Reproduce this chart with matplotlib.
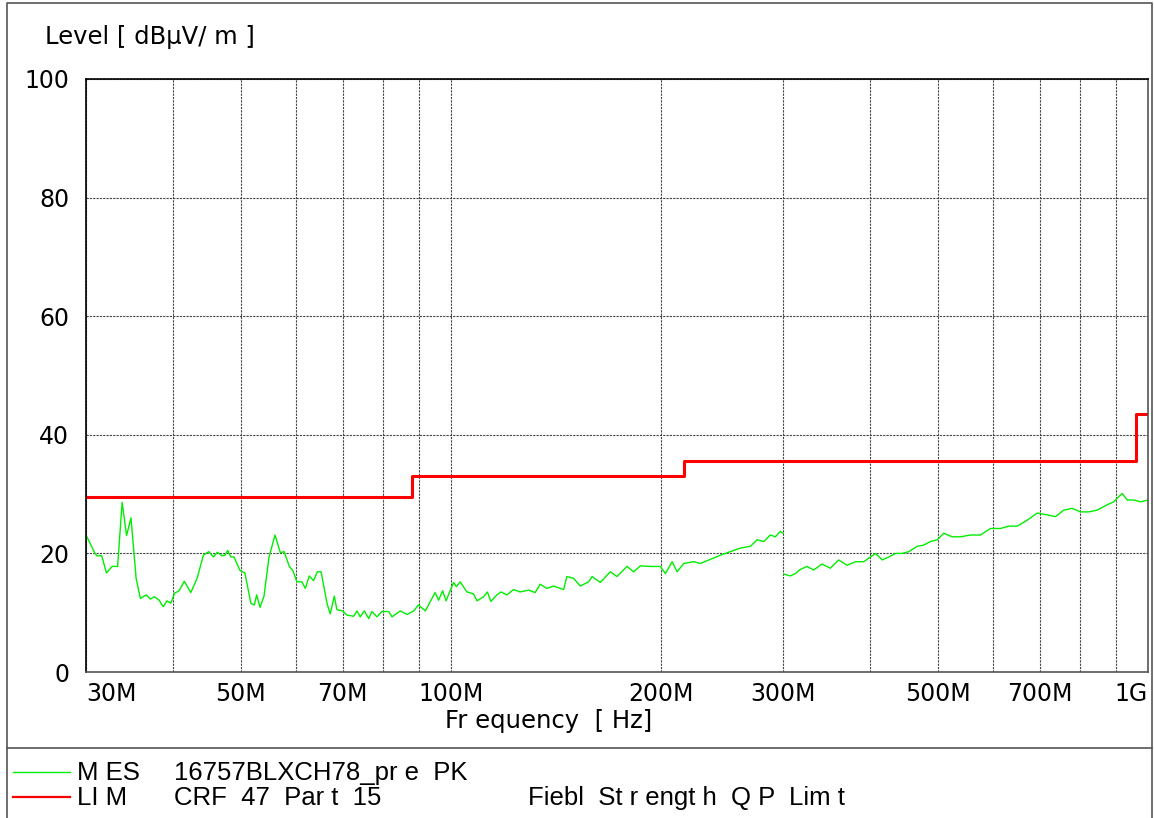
import numpy as np
import matplotlib
matplotlib.use("Agg")
import matplotlib.pyplot as plt
from matplotlib.lines import Line2D
from matplotlib.ticker import NullFormatter, FixedLocator

plt.rcParams['font.family'] = ['DejaVu Sans']

# measured trace, 30-300 MHz band
band1_mhz = [30.0, 30.9, 31.1, 31.6, 32.1, 32.7, 33.3, 33.8, 34.3, 34.8, 35.4, 35.9,
             36.6, 37.1, 37.6, 38.2, 38.7, 39.2, 39.7, 40.2, 40.8, 41.5, 42.4, 43.3,
             44.2, 45.0, 45.7, 46.3, 47.0, 47.5, 47.9, 48.4, 48.9, 49.9, 50.7, 51.7,
             52.3, 52.7, 53.3, 54.0, 54.9, 56.0, 57.0, 57.7, 58.7, 59.4, 60.2, 61.2,
             61.9, 62.7, 63.6, 64.4, 65.2, 66.5, 67.2, 68.1, 68.7, 70.0, 71.0, 72.6,
             73.4, 74.2, 75.2, 76.3, 77.1, 78.4, 79.7, 81.5, 82.4, 83.8, 84.7, 86.6,
             88.5, 89.9, 92.0, 95.0, 96.1, 97.4, 98.5, 99.9, 101.0, 101.9, 103.2, 105.5,
             107.8, 109.1, 111.5, 112.9, 114.2, 116.5, 118.1, 120.4, 123.1, 125.8, 129.3,
             132.2, 134.4, 137.4, 140.5, 145.2, 146.8, 150.1, 153.4, 157.7, 159.5, 163.9,
             169.4, 173.2, 179.0, 183.0, 187.1, 193.4, 199.9, 203.2, 207.8, 211.2, 215.9,
             223.1, 228.1, 235.8, 243.7, 251.9, 260.4, 269.1, 275.1, 281.2, 287.4, 292.1,
             297.0, 299.6]
band1_db = [23.1, 20.0, 19.6, 19.6, 16.7, 17.8, 17.8, 28.6, 23.0, 26.0, 15.8, 12.4,
            13.0, 12.3, 12.7, 12.1, 11.0, 12.0, 11.6, 13.3, 13.7, 15.3, 13.4, 15.8,
            19.7, 20.3, 19.4, 20.2, 19.6, 19.7, 20.5, 19.4, 19.4, 17.1, 16.7, 11.6,
            11.3, 13.0, 10.9, 12.8, 19.4, 23.1, 20.1, 20.3, 17.8, 17.1, 15.2, 15.2,
            14.1, 16.2, 15.4, 16.9, 16.9, 11.5, 9.8, 12.8, 10.5, 10.3, 9.6, 9.4,
            10.3, 9.3, 10.3, 9.0, 10.2, 9.3, 10.2, 10.2, 9.3, 9.9, 10.3, 9.7,
            10.3, 11.3, 10.3, 13.4, 12.1, 13.7, 12.0, 13.8, 15.1, 14.4, 15.2, 13.5,
            13.2, 12.0, 12.7, 13.5, 11.9, 13.0, 13.5, 13.0, 13.9, 13.5, 13.8,
            13.4, 14.8, 14.1, 14.5, 13.9, 16.1, 15.8, 14.5, 15.2, 16.1, 15.1,
            16.9, 16.1, 17.8, 16.9, 17.9, 17.8, 17.8, 16.6, 18.6, 16.9, 18.3,
            18.6, 18.3, 19.0, 19.7, 20.3, 20.9, 21.2, 22.3, 22.0, 23.1, 22.8,
            23.7, 23.4]

# measured trace, 300-1000 MHz band
band2_mhz = [300.5, 307.0, 312.2, 317.3, 324.4, 331.6, 340.9, 350.3, 360.1, 370.2,
             380.7, 391.3, 400.0, 406.7, 415.8, 425.0, 434.5, 444.2, 454.0, 466.7,
             477.0, 487.6, 498.6, 509.5, 523.8, 538.4, 556.4, 575.1, 594.4, 614.4,
             631.5, 649.3, 671.1, 693.6, 716.9, 736.8, 757.3, 778.6, 800.2, 822.5,
             845.6, 874.0, 893.2, 908.1, 918.4, 933.7, 954.3, 975.6, 1000.0]
band2_db = [16.5, 16.2, 16.6, 17.3, 17.8, 17.2, 18.2, 17.5, 18.9, 18.0,
            18.6, 18.6, 19.4, 20.0, 18.9, 19.4, 20.0, 20.0, 20.3, 21.2,
            21.4, 22.0, 22.3, 23.4, 22.8, 22.8, 23.1, 23.1, 24.2, 24.2,
            24.6, 24.6, 25.6, 26.8, 26.5, 26.2, 27.3, 27.6, 27.0, 27.0,
            27.3, 28.2, 28.7, 29.6, 30.1, 29.0, 29.0, 28.7, 29.0]

# CFR 47 Part 15 limit (step edges, MHz) and levels
limit_mhz = [30, 88, 88, 216, 216, 960, 960, 1000]
limit_db = [29.5, 29.5, 33.1, 33.1, 35.6, 35.6, 43.5, 43.5]

major_mhz = [30, 50, 70, 100, 200, 300, 500, 700, 1000]
major_labels = ["30M", "50M", "70M", "100M", "200M", "300M", "500M", "700M", "1G"]
minor_mhz = [40, 60, 80, 90, 400, 600, 800, 900]
y_ticks = [0, 20, 40, 60, 80, 100]

W, H = 1154, 818
fig = plt.figure(figsize=(W / 100, H / 100), dpi=100)
ax = fig.add_axes([86 / W, 1 - 672 / H, (1148 - 86) / W, (672 - 79) / H])

ax.plot(band1_mhz, band1_db, color='#00ee00', lw=1.0)
ax.plot(band2_mhz, band2_db, color='#00ee00', lw=1.0)
ax.plot(limit_mhz, limit_db, color='#ff0000', lw=2.2)

ax.set_xscale('log')
ax.set_xlim(30, 1000)
ax.set_ylim(0, 100)
ax.xaxis.set_major_locator(FixedLocator(major_mhz))
ax.xaxis.set_minor_locator(FixedLocator(minor_mhz))
ax.xaxis.set_minor_formatter(NullFormatter())
ax.set_xticklabels(major_labels)
ax.set_yticks(y_ticks)
ax.tick_params(which='both', length=0)
ax.tick_params(axis='x', pad=7, labelsize=17)
ax.tick_params(axis='y', pad=12, labelsize=17)
lbls = ax.get_xticklabels()
lbls[0].set_ha('left')
lbls[-1].set_ha('right')

ax.grid(True, which='both', color='#444444', linestyle=(0, (2, 1)), lw=0.8)
ax.set_axisbelow(True)
for side in ['top', 'left']:
    ax.spines[side].set_color('black')
    ax.spines[side].set_linewidth(1.2)
for side in ['bottom', 'right']:
    ax.spines[side].set_color('#555555')
    ax.spines[side].set_linewidth(1.2)

fig.text(45 / W, 1 - 37 / H, "Level [ dBµV/ m ]", fontsize=17.5, va='center', ha='left')
fig.text(549 / W, 1 - 721 / H, "Fr equency  [ Hz]", fontsize=17.5, va='center', ha='center')

# outer frame and legend separator
px = lambda x, y: (x / W, 1 - y / H)
frame_x = [7, 7, 1152, 1152]
frame_y = [H, 3, 3, H]
fig.add_artist(Line2D([x / W for x in frame_x], [1 - y / H for y in frame_y],
                      color='#555555', lw=1.2))
fig.add_artist(Line2D([7 / W, 1152 / W], [1 - 748 / H] * 2, color='#555555', lw=1.2))

# legend block
fig.add_artist(Line2D([13 / W, 70 / W], [1 - 772 / H] * 2, color='#00ee00', lw=1.0))
fig.add_artist(Line2D([13 / W, 70 / W], [1 - 797 / H] * 2, color='#ff0000', lw=1.6))
leg_font = dict(fontsize=18.5, va='center', ha='left', family=['Liberation Sans', 'DejaVu Sans'])
fig.text(*px(77, 773), "M ES", **leg_font)
fig.text(*px(174, 773), "16757BLXCH78_pr e  PK", **leg_font)
fig.text(*px(77, 798), "LI M", **leg_font)
fig.text(*px(174, 798), "CRF  47  Par t  15", **leg_font)
fig.text(*px(528, 798), "Fiebl  St r engt h  Q P  Lim t", **leg_font)

fig.savefig("out.png", dpi=100)
